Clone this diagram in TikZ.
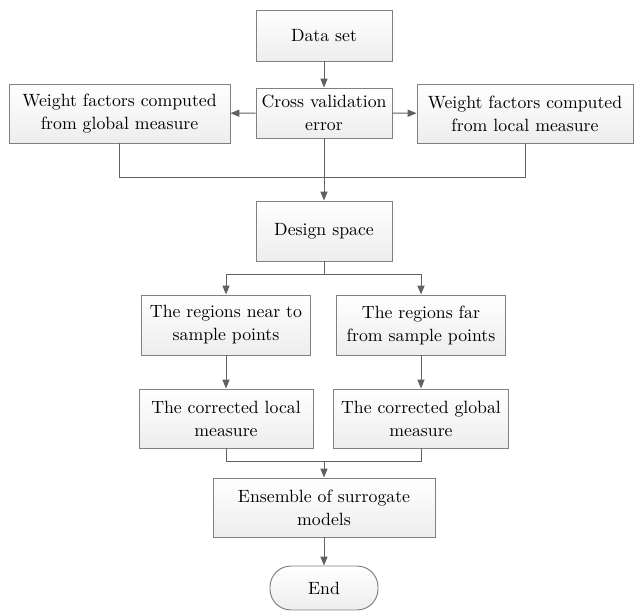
\documentclass[tikz,border=0pt]{standalone}
\usetikzlibrary{arrows.meta,calc}

\tikzset{
	box/.style={draw=black!50, line width=0.55pt, top color=white, bottom color=black!7,
		align=center, inner sep=2pt, font=\fontsize{10.1pt}{13.1pt}\selectfont},
	link/.style={draw=black!62, line width=0.55pt},
	arr/.style={link, -{Triangle[length=5pt,width=4pt]}}
}

\begin{document}
\begin{tikzpicture}
		\useasboundingbox (0,0) rectangle (12.68,12.22);
		\node[box, minimum width=2.72cm, minimum height=1.02cm] (data) at (6.48,11.51) {Data set};
		\node[box, minimum width=2.72cm, minimum height=1.0cm] (cv) at (6.48,9.96) {Cross validation\\error};
		\node[box, minimum width=4.42cm, minimum height=1.18cm] (wglobal) at (2.39,9.95) {Weight factors computed\\from global measure};
		\node[box, minimum width=4.32cm, minimum height=1.18cm] (wlocal) at (10.50,9.95) {Weight factors computed\\from local measure};
		\node[box, minimum width=2.72cm, minimum height=1.2cm] (design) at (6.48,7.60) {Design space};
		\node[box, minimum width=3.38cm, minimum height=1.2cm] (near) at (4.52,5.72) {The regions near to\\sample points};
		\node[box, minimum width=3.38cm, minimum height=1.2cm] (far) at (8.42,5.72) {The regions far\\from sample points};
		\node[box, minimum width=3.48cm, minimum height=1.18cm] (clocal) at (4.52,3.85) {The corrected local\\measure};
		\node[box, minimum width=3.5cm, minimum height=1.18cm] (cglobal) at (8.42,3.85) {The corrected global\\measure};
		\node[box, minimum width=4.44cm, minimum height=1.18cm] (ensemble) at (6.48,2.07) {Ensemble of surrogate\\models};
		\node[box, minimum width=2.16cm, minimum height=0.88cm, rounded corners=0.42cm] (end) at (6.48,0.46) {End};
		\coordinate (topjoin) at (6.48,8.68);
		\coordinate (split) at (6.48,6.74);
		\coordinate (botjoin) at (6.48,3.00);
		\draw[arr] (data)--(cv);
		\draw[arr] (cv)--(wglobal);
		\draw[arr] (cv)--(wlocal);
		\draw[link] (wglobal.south)--(wglobal.south |- topjoin)--(wlocal.south |- topjoin)--(wlocal.south);
		\draw[arr] (cv)--(design);
		\draw[link] (design.south)--(split);
		\draw[arr] (split)-|(near.north);
		\draw[arr] (split)-|(far.north);
		\draw[arr] (near)--(clocal);
		\draw[arr] (far)--(cglobal);
		\draw[link] (clocal.south)--(clocal.south |- botjoin)--(cglobal.south |- botjoin)--(cglobal.south);
		\draw[arr] (botjoin)--(ensemble);
		\draw[arr] (ensemble)--(end);
	\end{tikzpicture}
\end{document}
